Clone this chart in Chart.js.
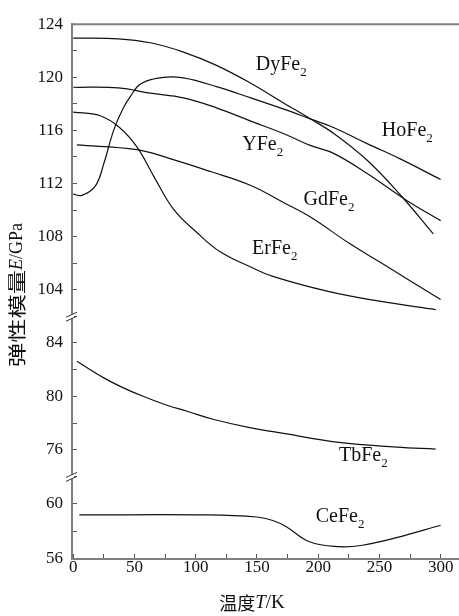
<!DOCTYPE html>
<html>
<head>
<meta charset="utf-8">
<script src="https://cdn.jsdelivr.net/npm/chart.js@4"></script>
<style>
  html, body { margin: 0; padding: 0; background: #fff; }
  #contenedor { width: 459px; height: 616px; }
</style>
</head>
<body>
<div id="contenedor"><canvas id="grafica"></canvas></div>
<script>
// datos (T en K, E en GPa)
const tempDy = [0, 37, 63, 90, 117, 145, 172, 194, 213, 240, 267, 294];
const modDy  = [122.95, 122.9, 122.6, 121.9, 120.9, 119.55, 118.05, 116.85, 115.75, 113.75, 111.15, 108.2];

const tempHo = [0, 7, 18, 25, 33, 41, 47, 55, 74, 90, 117, 145, 172, 194, 213, 240, 267, 300];
const modHo  = [111.2, 111.1, 111.8, 113.5, 116.0, 117.7, 118.6, 119.5, 120.0, 119.95, 119.3, 118.45, 117.6, 116.85, 116.2, 115.0, 113.85, 112.3];

const tempY = [0, 37, 63, 90, 117, 145, 172, 194, 213, 240, 271, 300];
const modY  = [119.25, 119.2, 118.8, 118.45, 117.7, 116.7, 115.75, 114.85, 114.25, 112.75, 110.8, 109.2];

const tempGd = [3, 52, 79, 112, 145, 172, 194, 226, 250, 300];
const modGd  = [114.9, 114.55, 113.87, 112.9, 111.85, 110.55, 109.45, 107.45, 106.1, 103.25];

const tempEr = [0, 22, 38, 52, 66, 82, 101, 120, 145, 163, 209, 250, 296];
const modEr  = [117.38, 117.1, 116.2, 114.75, 112.5, 110.05, 108.3, 106.85, 105.7, 105.0, 103.85, 103.13, 102.5];

const tempTb = [3, 25, 41, 57, 76.5, 93, 115, 145, 168, 217, 264, 296];
const modTb  = [82.63, 81.38, 80.63, 80.0, 79.33, 78.88, 78.26, 77.63, 77.28, 76.55, 76.2, 76.05];

const tempCe = [5, 109, 150, 163, 174, 193, 217, 236, 264, 300];
const modCe  = [59.2, 59.2, 59.05, 58.8, 58.35, 57.25, 56.9, 57.0, 57.55, 58.45];

const nombres = ['DyFe', 'HoFe', 'YFe', 'GdFe', 'ErFe', 'TbFe', 'CeFe'];

function puntos(t, e) {
  return t.map((v, i) => ({ x: v, y: e[i] }));
}

// rotulos de cada curva, en unidades de los ejes
const etiquetas = [
  { texto: nombres[0], t: 149, e: 120.55, eje: 'yAlto' },
  { texto: nombres[1], t: 252, e: 115.6, eje: 'yAlto' },
  { texto: nombres[2], t: 138, e: 114.5, eje: 'yAlto' },
  { texto: nombres[3], t: 188, e: 110.4, eje: 'yAlto' },
  { texto: nombres[4], t: 146, e: 106.7, eje: 'yAlto' },
  { texto: nombres[5], t: 217, e: 75.15, eje: 'yMedio' },
  { texto: nombres[6], t: 198, e: 58.7, eje: 'yBajo' }
];

const SERIF = '"Liberation Serif", "DejaVu Serif", serif';
const CJK = '"Noto Sans CJK SC", sans-serif';
const GRIS = '#808080';

// escribe trozos de texto con distinta fuente, centrados en (cx, cy)
function escribirTramos(ctx, tramos, cx, cy) {
  let total = 0;
  tramos.forEach(tr => {
    ctx.font = tr.f;
    tr.w = ctx.measureText(tr.t).width * (tr.sx || 1);
    total += tr.w;
  });
  let x = cx - total / 2;
  tramos.forEach(tr => {
    ctx.font = tr.f;
    ctx.save();
    ctx.translate(x, cy);
    ctx.scale(tr.sx || 1, 1);
    ctx.fillText(tr.t, 0, 0);
    ctx.restore();
    x += tr.w;
  });
}

const anotaciones = {
  id: 'anotaciones',
  afterDraw(chart) {
    const { ctx, chartArea: area, scales } = chart;
    ctx.save();

    // linea superior del marco
    ctx.strokeStyle = GRIS;
    ctx.lineWidth = 2;
    ctx.beginPath();
    ctx.moveTo(area.left - 1, area.top);
    ctx.lineTo(chart.width, area.top);
    ctx.stroke();

    // cortes del eje
    [scales.yAlto.bottom, scales.yMedio.bottom].forEach(yb => {
      const x = area.left;
      ctx.fillStyle = '#fff';
      ctx.fillRect(x - 2, yb - 2, 4, 4);
      ctx.strokeStyle = '#333';
      ctx.lineWidth = 1;
      [-2, 2].forEach(d => {
        ctx.beginPath();
        ctx.moveTo(x - 6, yb + d + 3);
        ctx.lineTo(x + 5, yb + d - 2);
        ctx.stroke();
      });
    });

    // nombres de los compuestos
    ctx.fillStyle = '#111';
    ctx.textAlign = 'left';
    ctx.textBaseline = 'alphabetic';
    etiquetas.forEach(et => {
      const px = scales.x.getPixelForValue(et.t);
      const py = scales[et.eje].getPixelForValue(et.e);
      ctx.font = '20px ' + SERIF;
      ctx.fillText(et.texto, px, py);
      const w = ctx.measureText(et.texto).width;
      ctx.font = '13px ' + SERIF;
      ctx.fillText('2', px + w, py + 6);
    });

    // titulos de los ejes
    ctx.textBaseline = 'middle';
    escribirTramos(ctx, [
      { t: '温度', f: '18px ' + CJK },
      { t: 'T', f: 'italic 19px ' + SERIF },
      { t: '/K', f: '19px ' + SERIF }
    ], area.left + 180, chart.height - 13);

    ctx.translate(17, 295);
    ctx.rotate(-Math.PI / 2);
    escribirTramos(ctx, [
      { t: '弹性模量', f: '18px ' + CJK, sx: 1.35 },
      { t: 'E', f: 'italic 18px ' + SERIF },
      { t: '/GPa', f: '18px ' + SERIF }
    ], 0, 0);

    ctx.restore();
  }
};

function ejeY(minimo, maximo, peso) {
  return {
    type: 'linear',
    position: 'left',
    stack: 'izquierda',
    stackWeight: peso,
    min: minimo,
    max: maximo,
    afterFit(scale) { scale.width = 72; },
    border: { color: GRIS, width: 2 },
    grid: { drawOnChartArea: false, drawTicks: true, tickLength: -5, color: '#555', lineWidth: 1 },
    ticks: {
      stepSize: 2,
      autoSkip: false,
      includeBounds: false,
      padding: 14,
      color: '#111',
      font: { family: SERIF, size: 17 },
      callback: v => (v % 4 === 0 ? v : '')
    }
  };
}

const colorLinea = '#111';
const conjuntos = [
  [tempDy, modDy, 'yAlto'],
  [tempHo, modHo, 'yAlto'],
  [tempY, modY, 'yAlto'],
  [tempGd, modGd, 'yAlto'],
  [tempEr, modEr, 'yAlto'],
  [tempTb, modTb, 'yMedio'],
  [tempCe, modCe, 'yBajo']
].map((c, i) => ({
  label: nombres[i] + '2',
  data: puntos(c[0], c[1]),
  yAxisID: c[2],
  borderColor: colorLinea,
  borderWidth: 1.2,
  pointRadius: 0,
  fill: false,
  tension: 0.4
}));

new Chart(document.getElementById('grafica'), {
  type: 'line',
  data: { datasets: conjuntos },
  options: {
    responsive: true,
    maintainAspectRatio: false,
    animation: false,
    layout: { padding: { top: 15, right: 0, left: 0, bottom: 0 } },
    plugins: { legend: { display: false }, tooltip: { enabled: false } },
    scales: {
      x: {
        type: 'linear',
        position: 'bottom',
        min: -1,
        max: 315,
        afterFit(scale) { scale.height = 57; },
        border: { color: GRIS, width: 2 },
        grid: { drawOnChartArea: false, drawTicks: true, tickLength: -5, color: '#555', lineWidth: 1 },
        ticks: {
          stepSize: 25,
          autoSkip: false,
          includeBounds: false,
          maxRotation: 0,
          padding: 3,
          color: '#111',
          font: { family: SERIF, size: 17 },
          callback: v => (v % 50 === 0 ? v : '')
        }
      },
      // el primer eje de la pila queda abajo
      yBajo: ejeY(56, 62, 84),
      yMedio: ejeY(74, 86, 163),
      yAlto: ejeY(102, 124, 297)
    }
  },
  plugins: [anotaciones]
});
</script>
</body>
</html>
